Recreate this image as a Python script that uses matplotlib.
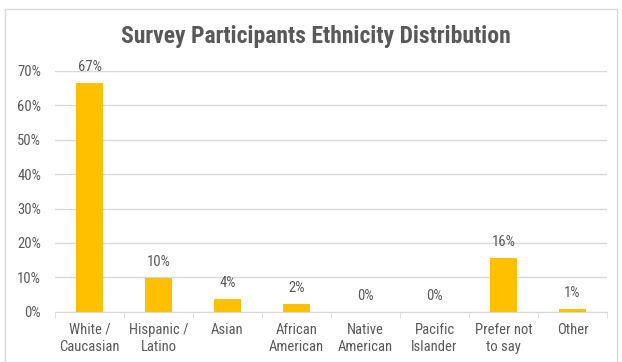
import matplotlib
matplotlib.use("Agg")
import matplotlib.pyplot as plt
from matplotlib.patches import Rectangle

categories = ["White /\nCaucasian", "Hispanic /\nLatino", "Asian", "African\nAmerican",
              "Native\nAmerican", "Pacific\nIslander", "Prefer not\nto say", "Other"]
values = [0.664, 0.099, 0.036, 0.022, 0.0, 0.0, 0.157, 0.007]
labels = ["67%", "10%", "4%", "2%", "0%", "0%", "16%", "1%"]
yticks = [0, 0.1, 0.2, 0.3, 0.4, 0.5, 0.6, 0.7]
ytick_labels = ["0%", "10%", "20%", "30%", "40%", "50%", "60%", "70%"]
title = "Survey Participants Ethnicity Distribution"

plt.rcParams['font.family'] = ['Roboto Condensed', 'Liberation Sans', 'DejaVu Sans']
gray = "#595959"

fig = plt.figure(figsize=(6.22, 3.62), dpi=100)
fig.patches.append(Rectangle((5 / 622, -0.05), 612 / 622, 1.05 - 9 / 362, transform=fig.transFigure,
                             fill=False, edgecolor="#d9d9d9", linewidth=1.0))
ax = fig.add_axes([55 / 622, 1 - 311.7 / 362, 552 / 622, (311.7 - 71) / 362])
x = list(range(len(categories)))
ax.bar(x, values, width=0.38, color="#FFC000", zorder=3)
for xi, v, lab in zip(x, values, labels):
    ax.annotate(lab, (xi, v), xytext=(0, 6.5), textcoords="offset points",
                ha="center", va="bottom", fontsize=10.5, color=gray)

ax.set_xlim(-0.5, len(categories) - 0.5)
ax.set_ylim(0, 0.7)
ax.set_yticks(yticks)
ax.set_yticklabels(ytick_labels, fontsize=10.5, color=gray)
ax.set_xticks(x)
ax.set_xticklabels(categories, fontsize=10.5, color=gray, linespacing=1.3)
ax.set_xticks([i - 0.5 for i in range(len(categories) + 1)], minor=True)
ax.tick_params(axis="x", which="major", length=0, pad=8)
ax.tick_params(axis="x", which="minor", length=4, color="#d9d9d9")
ax.tick_params(axis="y", length=0, pad=10)
ax.yaxis.grid(True, color="#d9d9d9", linewidth=1.0, zorder=0)
for s in ["top", "right", "left"]:
    ax.spines[s].set_visible(False)
ax.spines["bottom"].set_color("#d9d9d9")
fig.text(316 / 622, 1 - 37 / 362, title, ha="center", va="center", fontsize=17,
         fontweight="bold", color=gray)

fig.savefig("out.png", dpi=100)
